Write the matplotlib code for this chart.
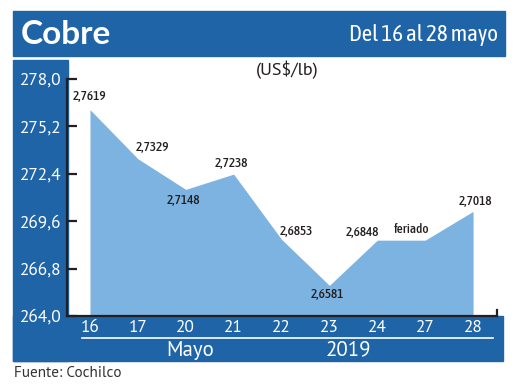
import matplotlib
matplotlib.use('Agg')
import matplotlib.pyplot as plt
from matplotlib.patches import Rectangle
from matplotlib.lines import Line2D

# %% data
dias = ['16', '17', '20', '21', '22', '23', '24', '27', '28']
precio = [276.19, 273.29, 271.48, 272.38, 268.53, 265.81, 268.48, 268.48, 270.18]
etiquetas = ['2,7619', '2,7329', '2,7148', '2,7238', '2,6853', '2,6581', '2,6848', 'feriado', '2,7018']
yticks = [264.0, 266.8, 269.6, 272.4, 275.2, 278.0]

azul = '#1f64a6'
celeste = '#7cb3e1'
W, H = 520, 390

myriad = ['PT Sans', 'Open Sans', 'DejaVu Sans']
cond = ['Asap Condensed', 'Barlow Condensed', 'Roboto Condensed', 'DejaVu Sans']


def fx(px):
    return px / W


def fy(py):
    return 1 - py / H


fig = plt.figure(figsize=(5.2, 3.9), dpi=100)
fig.patch.set_facecolor('white')

# blue frame pieces
fig.add_artist(Rectangle((fx(13), fy(56)), fx(505) - fx(13), fy(11) - fy(56),
                         transform=fig.transFigure, color=azul, zorder=0))
fig.add_artist(Rectangle((fx(13), fy(361)), fx(68) - fx(13), fy(60) - fy(361),
                         transform=fig.transFigure, color=azul, zorder=0))
fig.add_artist(Rectangle((fx(13), fy(361)), fx(503) - fx(13), fy(316) - fy(361),
                         transform=fig.transFigure, color=azul, zorder=0))

fig.text(fx(21), fy(34), 'Cobre', color='white', fontsize=24, fontweight='bold',
         family=['Lato', 'DejaVu Sans'], va='center', ha='left')
fig.text(fx(498), fy(35), 'Del 16 al 28 mayo', color='white', fontsize=16.5,
         family=cond, va='center', ha='right')
fig.text(fx(287), fy(70), '(US$/lb)', color='#231f20', fontsize=13,
         family=myriad, va='center', ha='center')
fig.text(fx(14), fy(373), 'Fuente: Cochilco', color='#333333', fontsize=11,
         family=myriad, va='center', ha='left')

ax = fig.add_axes([fx(67), fy(316), fx(497) - fx(67), fy(79) - fy(316)])
ax.patch.set_alpha(0)
x = list(range(len(dias)))
ax.fill_between(x, precio, 264, color=celeste, lw=0)

offs = [(-1, 13), (15, 11), (-2, -11), (-2, 11), (15, 8), (-2, -9), (-15, 8), (-14, 11), (2, 10)]
for i, (lab, (dx, dy)) in enumerate(zip(etiquetas, offs)):
    ax.annotate(lab, (x[i], precio[i]), xytext=(dx, dy), textcoords='offset pixels',
                ha='center', va='center', fontsize=9.5, color='#231f20',
                family=cond, fontweight='medium')

ax.set_xlim(-0.48, 8.5)
ax.set_ylim(264, 278)
ax.set_yticks(yticks)
ax.set_yticklabels([f'{v:.1f}'.replace('.', ',') for v in yticks],
                   family=myriad, fontsize=12.5, color='white')
ax.set_xticks(x)
ax.set_xticklabels(dias, family=myriad, fontsize=12.5, color='white')
ax.tick_params(axis='y', direction='in', length=7.5, width=1.6, color='#231f20', pad=4)
ax.tick_params(axis='x', length=0, pad=3)
ax.spines['top'].set_visible(False)
ax.spines['right'].set_bounds(264, 264.35)
for s in ['left', 'bottom', 'right']:
    ax.spines[s].set_color('#231f20')
    ax.spines[s].set_linewidth(1.6)

fig.add_artist(Line2D([fx(82), fx(493)], [fy(338), fy(338)], color='white', lw=1.2))
fig.text(fx(190), fy(350), 'Mayo', color='white', fontsize=15, family=myriad,
         ha='center', va='center')
fig.text(fx(348), fy(350), '2019', color='white', fontsize=15, family=myriad,
         ha='center', va='center')

fig.savefig('out.png', dpi=100)
